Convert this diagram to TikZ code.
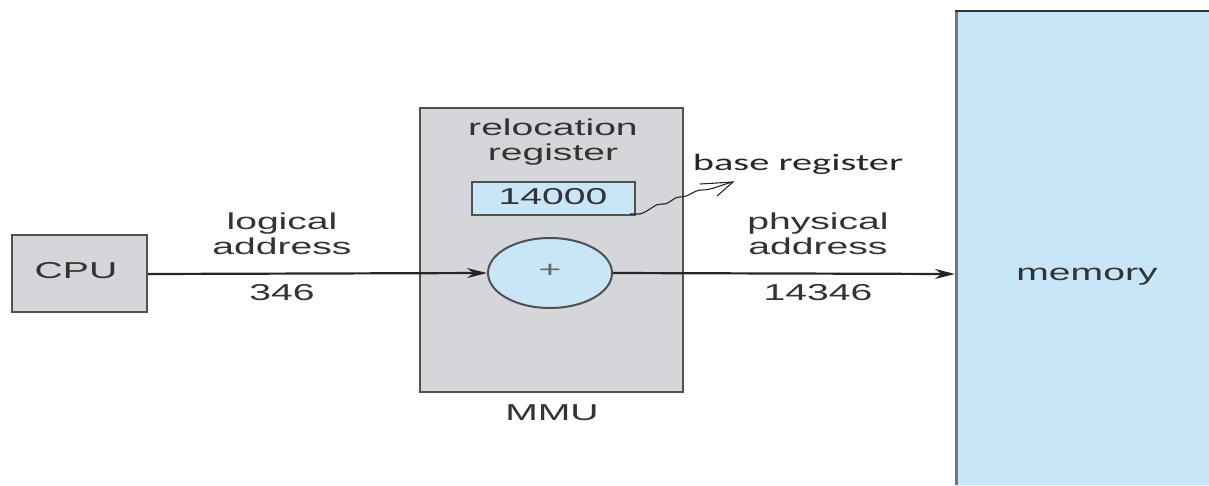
\documentclass[tikz,border=0pt]{standalone}
\usepackage{fontspec}
\usepackage{graphicx}
\setmainfont{Liberation Sans}
\newfontfamily\basefont{Carlito}
\usetikzlibrary{arrows.meta,shapes.geometric,decorations.pathmorphing}
\definecolor{boxgray}{HTML}{D4D6D9}
\definecolor{lblue}{HTML}{C8E6F8}
\definecolor{edge}{HTML}{505050}
\definecolor{txt}{HTML}{333333}
\definecolor{memedge}{RGB}{100,120,135}
\newcommand{\Wide}[1]{\scalebox{1.7}[1]{\begin{tabular}{@{}c@{}}#1\end{tabular}}}
\tikzset{
  lbl/.style={inner sep=0pt, text=txt, font=\fontsize{23}{25}\selectfont},
  graybox/.style={draw=edge, line width=2.2pt, fill=boxgray, inner sep=0pt},
  bluebox/.style={draw=edge, line width=2pt, fill=lblue, inner sep=0pt},
  conn/.style={line width=2.2pt, draw=black!85, -{Stealth[length=20pt,width=10pt]}},
}
\begin{document}
\begin{tikzpicture}[x=1pt,y=-1pt]
\useasboundingbox (0,0) rectangle (1209,485);
% memory
\fill[lblue] (955,11) rectangle (1209,485);
\draw[line width=3.5pt, draw=memedge] (956.5,485) -- (956.5,11);
\draw[line width=1.8pt, draw=black!80] (955,11) -- (1209,11);
\coordinate (memleft) at (955,274);
\node[lbl] (memtxt) at (1087,275) {\Wide{memory}};
% CPU
\node[graybox, minimum width=135pt, minimum height=77pt] (cpu) at (79.5,273.5) {};
\node[lbl] (cputxt) at (76,273) {\Wide{CPU}};
% MMU
\node[graybox, minimum width=263pt, minimum height=284pt] (mmu) at (551.5,250) {};
\node[lbl] (mmutxt) at (552,415) {\Wide{MMU}};
\node[lbl] (reloc) at (553,143) {\Wide{relocation\\register}};
\node[bluebox, minimum width=163pt, minimum height=33pt] (reg) at (553.5,198.5) {};
\node[lbl] (regtxt) at (553,199) {\Wide{14000}};
\node[bluebox, ellipse, minimum width=124pt, minimum height=70pt] (adder) at (550,273) {};
\node[lbl, text=black!60] (plus) at (550,272) {\Wide{+}};
% connectors
\draw[conn] (cpu.east |- 0,274) -- (adder.west);
\draw[conn] (adder.east) -- (memleft);
% labels
\node[lbl] (logical) at (282,237) {\Wide{logical\\address}};
\node[lbl] (la) at (282,295) {\Wide{346}};
\node[lbl] (physical) at (818,237) {\Wide{physical\\address}};
\node[lbl] (pa) at (818,295) {\Wide{14346}};
% base register annotation
\node[inner sep=0pt, text=black!85, font=\basefont\fontsize{23.5}{25}\selectfont] (base) at (798,164) {\scalebox{1.72}[1]{base register}};
\coordinate (tip) at (733,182);
\draw[line width=1.1pt, black!85] (reg.south east) ++(-6,-2) -- ++(10,0)
  .. controls (650,211) and (655,203) .. (662,204)
  .. controls (670,205) and (672,197) .. (680,197)
  .. controls (690,197) and (693,190) .. (702,190)
  .. controls (712,190) and (720,185) .. (tip);
\draw[line width=1.1pt, black!85] (700,184) -- (tip) -- (717,196);
\end{tikzpicture}
\end{document}
